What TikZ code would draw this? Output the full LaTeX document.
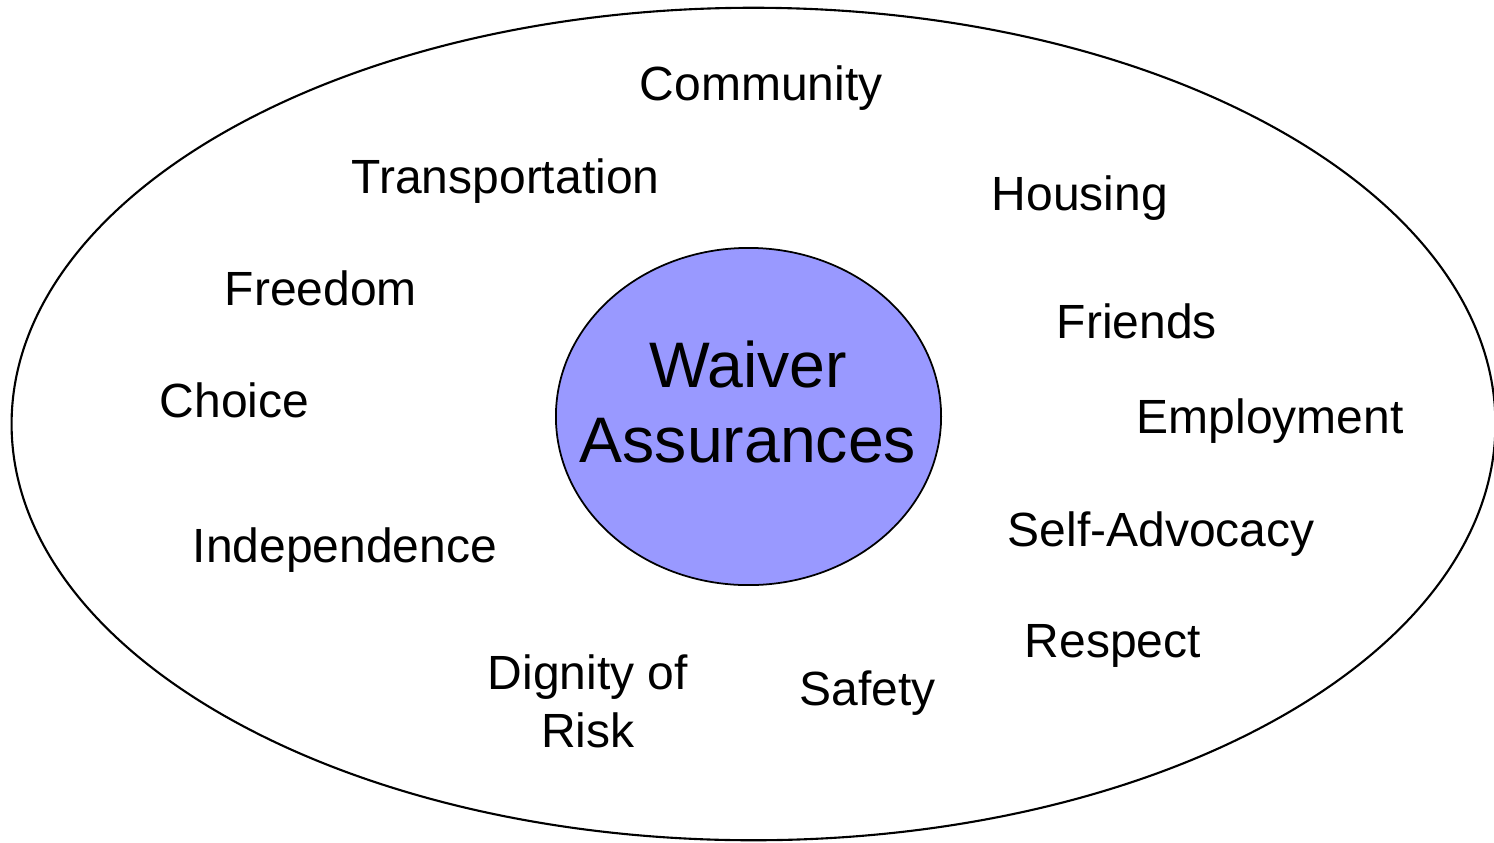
\documentclass[tikz,border=0pt]{standalone}
\usepackage{fontspec}
\setmainfont{Liberation Sans}
\usetikzlibrary{shapes.geometric}
\definecolor{corefill}{HTML}{9999FF}
\tikzstyle{outer} = [ellipse, draw=black, line width=0.6pt, minimum width=14.83cm, minimum height=8.32cm, inner sep=0pt, outer sep=0pt]
\tikzstyle{core} = [ellipse, draw=black, line width=0.5pt, fill=corefill, minimum width=3.85cm, minimum height=3.37cm, inner sep=0pt, outer sep=0pt]
\tikzstyle{word} = [anchor=base west, inner sep=0pt, font=\fontsize{13.65}{16.4}\selectfont]
\tikzstyle{twoline} = [align=center, inner sep=0pt, font=\fontsize{13.65}{16.5}\selectfont]
\tikzstyle{bigword} = [align=center, inner sep=0pt, font=\fontsize{18.3}{21.3}\selectfont]

\begin{document}
\begin{tikzpicture}[x=0.01cm, y=-0.01cm]
		\useasboundingbox (0,0) rectangle (1494,842);
		
		% Ellipses
		\node (ring) [outer] at (753.5,424) {};
		\node (core) [core] at (748.5,416.5) {};
		\node (coretext) [bigword] at (748,402) {Waiver\\Assurances};
		
		% Words round the centre
		\node (community) [word] at (639,100) {Community};
		\node (transport) [word] at (351,193) {Transportation};
		\node (housing) [word] at (991,210) {Housing};
		\node (freedom) [word] at (224,305) {Freedom};
		\node (friends) [word] at (1056,338) {Friends};
		\node (choice) [word] at (159,417) {Choice};
		\node (employment) [word] at (1136,433) {Employment};
		\node (selfadv) [word] at (1007,546) {Self-Advocacy};
		\node (independence) [word] at (192,562) {Independence};
		\node (respect) [word] at (1024,657) {Respect};
		\node (safety) [word] at (799,705) {Safety};
		\node (dignity) [twoline] at (588,701) {Dignity of\\Risk};
		
	\end{tikzpicture}
\end{document}
